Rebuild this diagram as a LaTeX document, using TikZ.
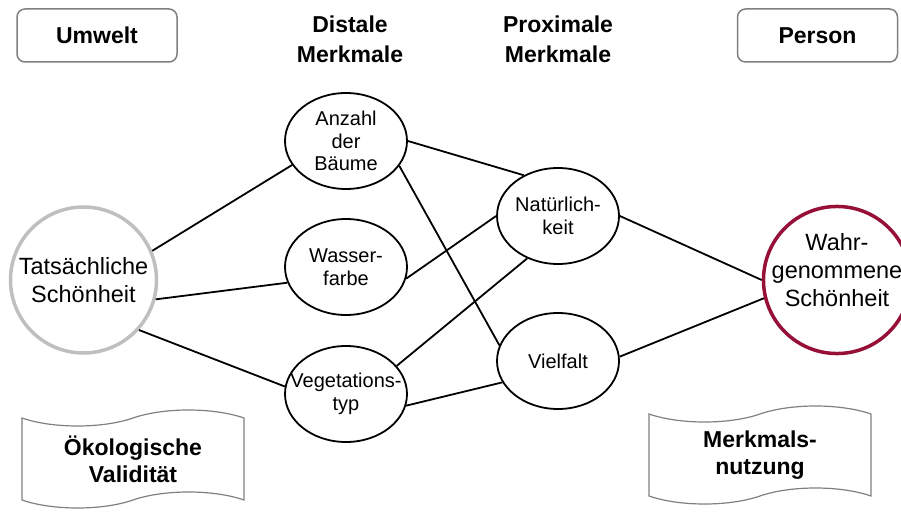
\documentclass[tikz,border=0pt]{standalone}
\usepackage{fontspec}
\setmainfont{Liberation Sans}
\usetikzlibrary{shapes.geometric,shapes.symbols}
\definecolor{rahmengrau}{RGB}{128,128,128}
\definecolor{kreisgrau}{RGB}{191,191,191}
\definecolor{weinrot}{RGB}{150,16,56}

\begin{document}
\begin{tikzpicture}[x=1pt, y=-1pt,
    kasten/.style={draw=rahmengrau, line width=1.5pt, rounded corners=8pt, minimum width=160pt, minimum height=53pt, font=\bfseries\fontsize{23}{27}\selectfont},
    kopf/.style={align=center, font=\bfseries\fontsize{23}{30}\selectfont},
    schoen/.style={circle, line width=3.5pt, inner sep=-5pt, align=center, font=\fontsize{23.5}{28}\selectfont},
    merkmal/.style={draw, ellipse, line width=1.8pt, minimum width=122pt, minimum height=96pt, inner xsep=-14pt, inner ysep=-4pt, align=center, font=\fontsize{20}{22.5}\selectfont},
    band/.style={draw=rahmengrau, line width=1.2pt, tape, tape bend height=16pt, minimum width=222pt, minimum height=98pt, align=center, font=\bfseries\fontsize{23}{27}\selectfont},
    verbindung/.style={line width=1.8pt}]
            \useasboundingbox (0,0) rectangle (901,513);

            % Kopfzeile
            \node[kasten] (umwelt) at (97,35.5) {Umwelt};
            \node[kasten] (person) at (817.5,35.5) {Person};
            \node[kopf] (distal) at (350,39) {Distale\\Merkmale};
            \node[kopf] (proximal) at (558,39) {Proximale\\Merkmale};

            % Schoenheit
            \node[schoen, draw=kreisgrau, minimum size=146pt] (tats) at (83.5,280) {Tatsächliche\\Schönheit};
            \node[schoen, draw=weinrot, minimum size=142pt] (wahr) at (837,280) {Wahr-\\genommene\\Schönheit\\[-7pt]};

            % Merkmale
            \node[merkmal] (anzahl) at (346,141) {Anzahl\\der\\Bäume};
            \node[merkmal] (wasser) at (346,267) {Wasser-\\farbe};
            \node[merkmal] (veg) at (346,394) {Vegetations-\\typ};
            \node[merkmal] (natur) at (558,216) {Natürlich-\\keit};
            \node[merkmal] (vielfalt) at (558,361) {Vielfalt};

            \node[band] (oeko) at (133,459) {Ökologische\\Validität};
            \node[band] (nutzung) at (760,455) {Merkmals-\\nutzung};

            % Verbindungen
            \draw[verbindung] (tats.23) -- (anzahl.204);
            \draw[verbindung] (tats.-15) -- (wasser.195);
            \draw[verbindung] (tats.-42) -- (veg.173);
            \draw[verbindung] (anzahl.0) -- (natur.130);
            \draw[verbindung] (anzahl.-25) -- (vielfalt.165);
            \draw[verbindung] (wasser.-11) -- (natur.180);
            \draw[verbindung] (veg.29) -- (natur.234);
            \draw[verbindung] (veg.-11) -- (vielfalt.201);
            \draw[verbindung] (natur.0) -- (wahr.180);
            \draw[verbindung] (vielfalt.4) -- (wahr.194);
\end{tikzpicture}
\end{document}
